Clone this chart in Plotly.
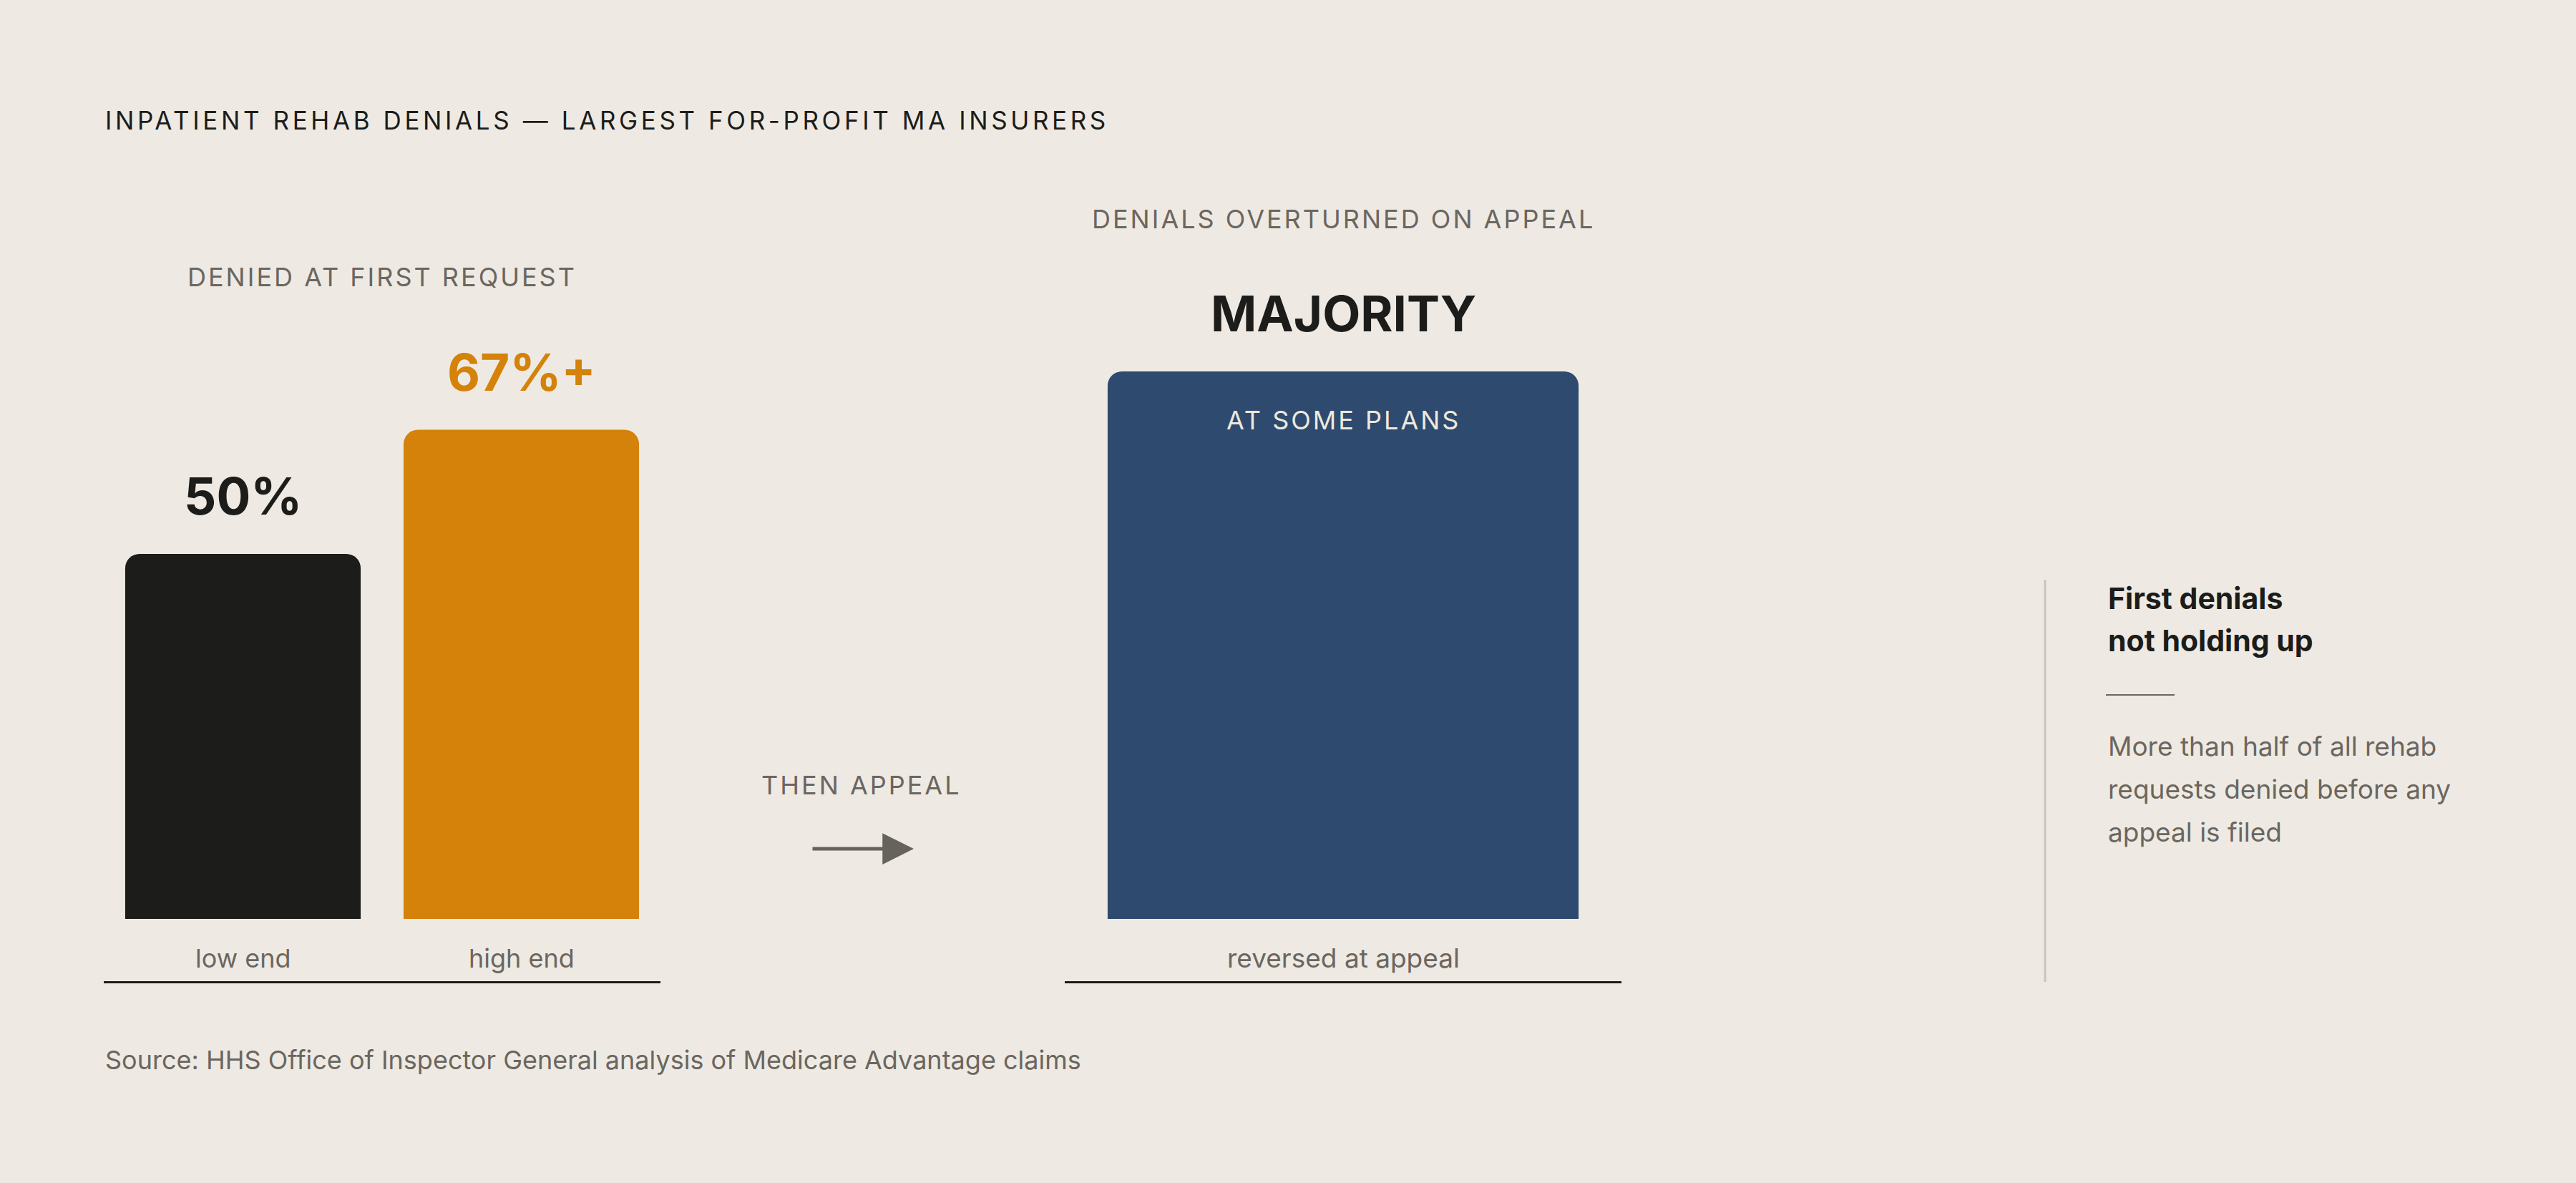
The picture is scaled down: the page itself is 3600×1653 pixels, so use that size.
import plotly.graph_objects as go

# figure size in px
W, H = 3600, 1653

BG = "#eeeae3"
INK = "#1c1c1a"
MUTED = "#6b665f"
ORANGE = "#d4820a"
NAVY = "#2e4a6e"
FONT = "Inter"

# ---- data ----
first_cats = ["low end", "high end"]
first_vals = [50, 67]
first_labels = ["50%", "67%+"]
first_colors = [INK, ORANGE]

appeal_cats = ["reversed at appeal"]
appeal_vals = [75]
appeal_labels = ["MAJORITY"]
appeal_inner = ["AT SOME PLANS"]

title = "INPATIENT REHAB DENIALS — LARGEST FOR-PROFIT MA INSURERS"
left_head = "DENIED AT FIRST REQUEST"
right_head = "DENIALS OVERTURNED ON APPEAL"
bridge = "THEN APPEAL"
note_head = ["First denials", "not holding up"]
note_body = ["More than half of all rehab", "requests denied before any", "appeal is filed"]
source = "Source: HHS Office of Inspector General analysis of Medicare Advantage claims"


def px_x(p):
    return p / W


def px_y(p):
    return 1 - p / H


def tracked(s, sp):
    return f'<span style="letter-spacing:{sp}px">{s}</span>'


fig = go.Figure()

fig.add_bar(
    x=first_cats,
    y=first_vals,
    marker=dict(color=first_colors, cornerradius=20, line_width=0),
    xaxis="x",
    yaxis="y",
    hoverinfo="skip",
)
fig.add_bar(
    x=appeal_cats,
    y=appeal_vals,
    marker=dict(color=NAVY, cornerradius=20, line_width=0),
    xaxis="x2",
    yaxis="y",
    hoverinfo="skip",
)

ann = []

# value labels above bars
for cat, val, lab, col in zip(first_cats, first_vals, first_labels, first_colors):
    ann.append(dict(x=cat, y=val, xref="x", yref="y", text=lab, yanchor="middle", yshift=81,
                    font=dict(size=71, color=col, family=FONT, weight=700)))
for cat, val, lab in zip(appeal_cats, appeal_vals, appeal_labels):
    ann.append(dict(x=cat, y=val, xref="x2", yref="y", text=lab, yanchor="middle", yshift=81,
                    font=dict(size=69, color=INK, family=FONT, weight=700)))
    ann.append(dict(x=cat, y=val, xref="x2", yref="y", text=tracked(appeal_inner[0], 3),
                    yanchor="middle", yshift=-68, font=dict(size=36, color="#eee8df", family=FONT)))

# category labels under bars
for cat in first_cats:
    ann.append(dict(x=cat, y=0, xref="x", yref="y", text=cat, yanchor="middle", yshift=-55,
                    font=dict(size=36, color=MUTED, family=FONT)))
for cat in appeal_cats:
    ann.append(dict(x=cat, y=0, xref="x2", yref="y", text=cat, yanchor="middle", yshift=-55,
                    font=dict(size=37, color=MUTED, family=FONT)))

# panel headers
ann.append(dict(x=0.5, y=max(first_vals), xref="x domain", yref="y", text=tracked(left_head, 3),
                yanchor="middle", yshift=214, font=dict(size=36, color=MUTED, family=FONT)))
ann.append(dict(x=0.5, y=max(appeal_vals), xref="x2 domain", yref="y", text=tracked(right_head, 3),
                yanchor="middle", yshift=213, font=dict(size=36, color=MUTED, family=FONT)))

# title + source
ann.append(dict(x=px_x(145), y=px_y(168), xref="paper", yref="paper", text=tracked(title, 4.6),
                xanchor="left", yanchor="middle", font=dict(size=35, color=INK, family=FONT)))
ann.append(dict(x=px_x(145), y=px_y(1481), xref="paper", yref="paper", text=source,
                xanchor="left", yanchor="middle", font=dict(size=36, color=MUTED, family=FONT)))

# bridge text and arrow
ann.append(dict(x=px_x(1204), y=px_y(1097), xref="paper", yref="paper", text=tracked(bridge, 3),
                yanchor="middle", font=dict(size=36, color=MUTED, family=FONT)))
ann.append(dict(x=px_x(1277), y=px_y(1186), xref="paper", yref="paper", text="", showarrow=True,
                ax=-143, ay=0, arrowhead=2, arrowsize=1.75, arrowwidth=5, arrowcolor="#66635d",
                standoff=0))

# side note
for i, line in enumerate(note_head):
    ann.append(dict(x=px_x(2944), y=px_y(836 + 59 * i), xref="paper", yref="paper", text=line,
                    xanchor="left", yanchor="middle",
                    font=dict(size=41, color=INK, family=FONT, weight=700)))
for i, line in enumerate(note_body):
    ann.append(dict(x=px_x(2944), y=px_y(1042 + 60 * i), xref="paper", yref="paper", text=line,
                    xanchor="left", yanchor="middle", font=dict(size=37, color=MUTED, family=FONT)))

for a in ann:
    a.setdefault("showarrow", False)

shapes = [
    dict(type="line", xref="paper", yref="paper", x0=px_x(2858), x1=px_x(2858),
         y0=px_y(810), y1=px_y(1372), line=dict(color="#c9c4bc", width=3)),
    dict(type="line", xref="paper", yref="paper", x0=px_x(2943), x1=px_x(3039),
         y0=px_y(971), y1=px_y(971), line=dict(color=MUTED, width=2)),
]

axis_common = dict(showline=True, linecolor=INK, linewidth=3, showticklabels=False, ticks="",
                   showgrid=False, zeroline=False, fixedrange=True)

fig.update_layout(
    width=W,
    height=H,
    margin=dict(l=0, r=0, t=0, b=0),
    paper_bgcolor=BG,
    plot_bgcolor=BG,
    showlegend=False,
    bargap=0.154,
    xaxis=dict(domain=[px_x(145), px_x(923)], anchor="y", **axis_common),
    xaxis2=dict(domain=[px_x(1488), px_x(2266)], anchor="y", **axis_common),
    yaxis=dict(domain=[px_y(1371), px_y(264)], range=[-8.53, 100], visible=False,
               showgrid=False, zeroline=False, fixedrange=True),
    annotations=ann,
    shapes=shapes,
    font=dict(family=FONT),
)

fig.write_html(
    "out.html",
    config={"displayModeBar": False},
    post_script="document.body.style.margin='0';document.body.style.overflow='hidden';",
)
